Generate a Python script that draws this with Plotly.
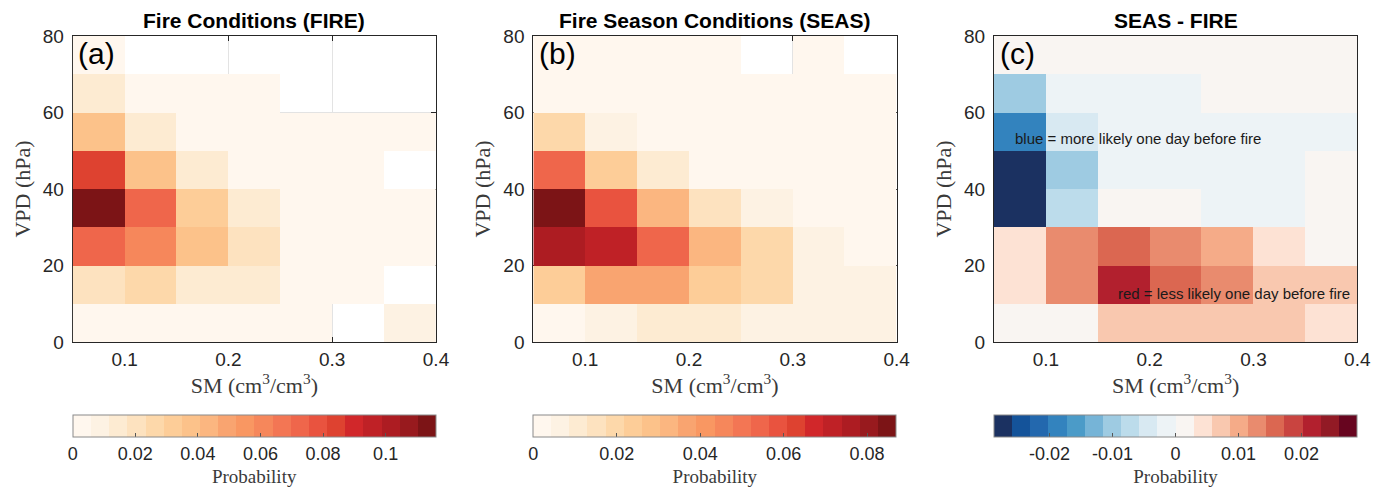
import plotly.graph_objects as go

# ---------------- data ----------------
sm_edges = [0.05, 0.10, 0.15, 0.20, 0.25, 0.30, 0.35, 0.40]
vpd_edges = [0, 10, 20, 30, 40, 50, 60, 70, 80]
N = None

# rows: VPD 0-10 (bottom) ... 70-80 (top); columns: SM 0.05-0.10 ... 0.35-0.40
fire = [
    [0.0029, 0.0029, 0.0029, 0.0029, 0.0029, N, 0.0087],
    [0.0203, 0.0260, 0.0145, 0.0145, 0.0029, 0.0029, N],
    [0.0725, 0.0610, 0.0377, 0.0203, 0.0029, 0.0029, 0.0029],
    [0.1130, 0.0725, 0.0320, 0.0145, 0.0029, 0.0029, 0.0029],
    [0.0840, 0.0377, 0.0145, 0.0029, 0.0029, 0.0029, N],
    [0.0377, 0.0145, 0.0029, 0.0029, 0.0029, 0.0029, 0.0029],
    [0.0145, 0.0029, 0.0029, 0.0029, N, N, N],
    [0.0029, N, N, N, N, N, N],
]

seas = [
    [0.0022, 0.0065, 0.0109, 0.0109, 0.0065, 0.0065, 0.0065],
    [0.0239, 0.0370, 0.0370, 0.0239, 0.0196, 0.0065, 0.0065],
    [0.0760, 0.0718, 0.0544, 0.0326, 0.0196, 0.0065, 0.0022],
    [0.0850, 0.0587, 0.0326, 0.0152, 0.0065, 0.0022, 0.0022],
    [0.0544, 0.0239, 0.0109, 0.0022, 0.0022, 0.0022, 0.0022],
    [0.0196, 0.0065, 0.0022, 0.0022, 0.0022, 0.0022, 0.0022],
    [0.0022, 0.0022, 0.0022, 0.0022, 0.0022, 0.0022, 0.0022],
    [0.0022, 0.0022, 0.0022, 0.0022, N, 0.0022, N],
]

diff = [
    [0.0014, 0.0014, 0.0072, 0.0072, 0.0072, 0.0072, 0.0043],
    [0.0043, 0.0130, 0.0216, 0.0158, 0.0130, 0.0072, 0.0072],
    [0.0043, 0.0130, 0.0158, 0.0130, 0.0101, 0.0043, 0.0014],
    [-0.0274, -0.0072, 0.0014, 0.0014, -0.0014, -0.0014, 0.0014],
    [-0.0274, -0.0101, -0.0014, -0.0014, -0.0014, -0.0014, 0.0014],
    [-0.0187, -0.0043, -0.0014, -0.0014, -0.0014, -0.0014, -0.0014],
    [-0.0101, -0.0014, -0.0014, -0.0014, 0.0014, 0.0014, 0.0014],
    [0.0014, 0.0014, 0.0014, 0.0014, 0.0014, 0.0014, 0.0014],
]

titles = ["Fire Conditions (FIRE)", "Fire Season Conditions (SEAS)", "SEAS - FIRE"]
panel_labels = ["(a)", "(b)", "(c)"]
zlims = [(0, 0.116), (0, 0.087), (-0.0288, 0.0288)]
cb_ticks = [
    [0, 0.02, 0.04, 0.06, 0.08, 0.1],
    [0, 0.02, 0.04, 0.06, 0.08],
    [-0.02, -0.01, 0, 0.01, 0.02],
]
cb_ticktext = [
    ["0", "0.02", "0.04", "0.06", "0.08", "0.1"],
    ["0", "0.02", "0.04", "0.06", "0.08"],
    ["-0.02", "-0.01", "0", "0.01", "0.02"],
]
x_ticks = [0.1, 0.2, 0.3, 0.4]
x_ticktext = ["0.1", "0.2", "0.3", "0.4"]
y_ticks = [0, 20, 40, 60, 80]

orrd20 = ["#fff7ee", "#fdf2e3", "#fdebd2", "#fde2bf", "#fdd8aa", "#fdcd98", "#fcc28a",
          "#fbb680", "#f9a470", "#f99762", "#f6875b", "#f37654", "#ef664b", "#e9533f",
          "#de4230", "#d1272a", "#bf2126", "#ad1c22", "#981a1e", "#7c1416"]
rdbu20 = ["#1b3161", "#14539a", "#2368ae", "#3383be", "#4b9bc8", "#76b4d7", "#9ecbe2",
          "#bcdceb", "#d8e9f2", "#edf3f6", "#f9f5f2", "#fde2d4", "#f9c8af", "#f5ab88",
          "#e98b6e", "#db6751", "#c94440", "#b2202e", "#921a25", "#67051f"]

notes = [
    ("blue = more likely one day before fire", 0.068, 53.1),
    ("red = less likely one day before fire", 0.168, 12.8),
]

# ---------------- layout helpers ----------------
# the page places the figure 8px in from the top-left corner (body margin),
# so the figure is 8px smaller and all pixel positions are measured from that offset
OFF = 8
W, H = 1383 - OFF, 489 - OFF


def stepped(colors):
    n = len(colors)
    cs = []
    for i, c in enumerate(colors):
        cs.append([i / n, c])
        cs.append([(i + 1) / n, c])
    return cs


px_left = [72.7 - OFF, 533.3 - OFF, 994.0 - OFF]
px_width = 363.3
plot_top, plot_bot = 36.0 - OFF, 342.0 - OFF
cb_top = 414.7 - OFF
title_y = 20.0 - OFF

TXT = "#262626"
SANS = "Liberation Sans, Arial, Helvetica, sans-serif"
SERIF = "Liberation Serif, Times New Roman, serif"

fig = go.Figure()
datasets = [fire, seas, diff]
cmaps = [orrd20, orrd20, rdbu20]

for k in range(3):
    suffix = "" if k == 0 else str(k + 1)
    fig.add_trace(go.Heatmap(
        x=sm_edges, y=vpd_edges, z=datasets[k],
        xaxis="x" + suffix, yaxis="y" + suffix,
        colorscale=stepped(cmaps[k]), zmin=zlims[k][0], zmax=zlims[k][1],
        hoverongaps=False, xgap=0, ygap=0,
        colorbar=dict(
            orientation="h", x=px_left[k] / W, xanchor="left",
            y=1 - cb_top / H, yanchor="top",
            lenmode="pixels", len=px_width, thicknessmode="pixels", thickness=22,
            xpad=0, ypad=0, outlinecolor="#8a8a8a", outlinewidth=1,
            ticks="inside", ticklen=4, tickcolor="#555555",
            tickvals=cb_ticks[k], ticktext=cb_ticktext[k],
            tickfont=dict(family=SANS, size=18, color=TXT),
            title=dict(text="Probability", side="bottom",
                       font=dict(family=SERIF, size=19, color="#3a3a3a")),
        ),
    ))

    dom_x = [px_left[k] / W, (px_left[k] + px_width) / W]
    dom_y = [1 - plot_bot / H, 1 - plot_top / H]
    axcommon = dict(showline=True, linecolor="#262626", linewidth=1, mirror="ticks",
                    ticks="inside", ticklen=5, tickcolor="#262626",
                    showgrid=True, gridcolor="#e3e3e3", gridwidth=1, zeroline=False,
                    layer="below traces", automargin=False,
                    tickfont=dict(family=SANS, size=19, color=TXT))
    fig.update_layout(**{
        "xaxis" + suffix: dict(axcommon, domain=dom_x, range=[0.05, 0.4], anchor="y" + suffix,
                               tickvals=x_ticks, ticktext=x_ticktext, ticklabelstandoff=0,
                               title=dict(text="SM (cm<sup>3</sup>/cm<sup>3</sup>)", standoff=3,
                                          font=dict(family=SERIF, size=22, color="#3a3a3a"))),
        "yaxis" + suffix: dict(axcommon, domain=dom_y, range=[0, 80], anchor="x" + suffix,
                               tickvals=y_ticks, ticklabelstandoff=4,
                               title=dict(text="VPD (hPa)", standoff=6,
                                          font=dict(family=SERIF, size=22, color="#3a3a3a"))),
    })

    # panel title
    fig.add_annotation(text="<b>" + titles[k] + "</b>", xref="paper", yref="paper",
                       x=(px_left[k] + px_width / 2) / W, y=1 - title_y / H,
                       xanchor="center", yanchor="middle", showarrow=False,
                       font=dict(family=SANS, size=21, color="#000000"))
    # panel label
    fig.add_annotation(text=panel_labels[k], xref="x" + suffix, yref="y" + suffix,
                       x=0.0535, y=75.3, xanchor="left", yanchor="middle", showarrow=False,
                       font=dict(family=SANS, size=30, color="#000000"))

for txt, nx, ny in notes:
    fig.add_annotation(text=txt, xref="x3", yref="y3", x=nx, y=ny,
                       xanchor="left", yanchor="middle", showarrow=False,
                       font=dict(family=SANS, size=15, color="#1a1a1a"))

fig.update_layout(width=W, height=H, margin=dict(l=0, r=0, t=0, b=0, autoexpand=False),
                  paper_bgcolor="white", plot_bgcolor="white", showlegend=False)

fig.write_html("out.html")
